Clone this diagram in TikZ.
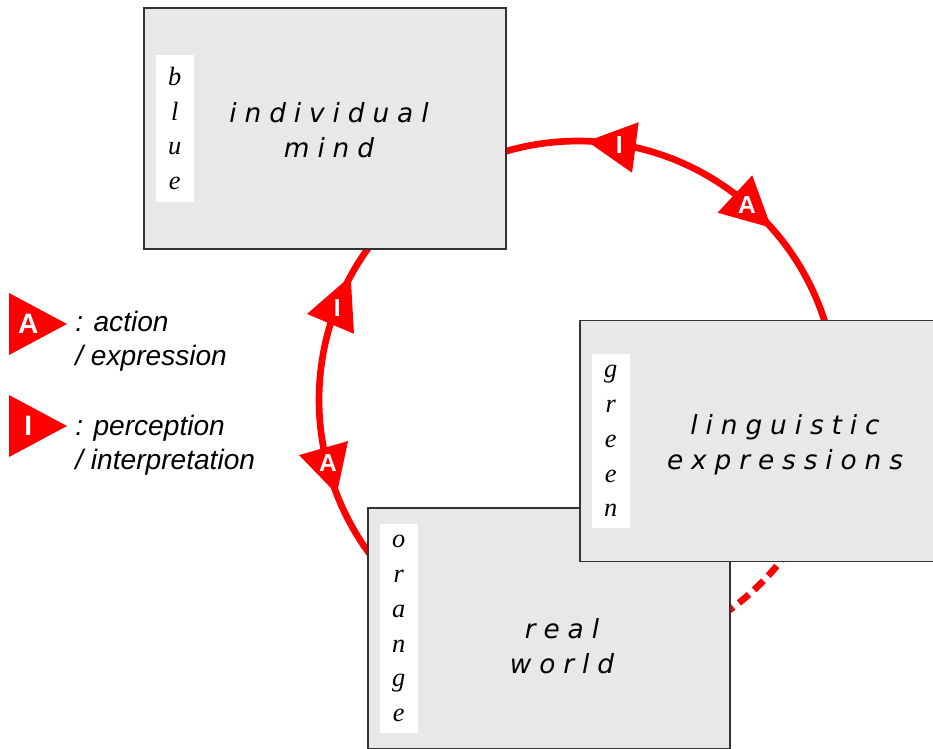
\documentclass[tikz,border=0pt]{standalone}
\usepackage{fontspec}
\usepackage{tikz}
\usetikzlibrary{positioning, calc}
\newfontfamily\boxfont[LetterSpace=30]{DejaVu Sans}
\newfontfamily\keyfont{Liberation Sans}
\newfontfamily\sidefont{Liberation Serif}

\tikzset{
  world/.style={draw=black!80, line width=0.8pt, fill=black!9, minimum width=7.24cm, minimum height=4.82cm, inner sep=0pt},
  sidebar/.style={fill=white, minimum width=0.76cm, inner xsep=0pt, inner ysep=6.5pt, align=center, font=\sidefont\itshape\fontsize{15}{19.85}\selectfont},
  worldtext/.style={align=center, font=\boxfont\itshape\fontsize{15}{19.85}\selectfont},
  ring/.style={red, line width=3.8pt},
  marktext/.style={text=white, inner sep=0pt, font=\keyfont\bfseries\fontsize{14}{14}\selectfont},
  keymark/.style={text=white, inner sep=0pt, font=\keyfont\bfseries\fontsize{16}{16}\selectfont},
  keytext/.style={align=left, anchor=west, inner sep=0pt, font=\keyfont\itshape\fontsize{16}{19.3}\selectfont}
}
\def\ringr{5.18cm}
% red triangle with a letter: [style]{name}{base centre}{tip}{half base}{letter}
\newcommand{\flowmark}[6][marktext]{%
  \coordinate (#2b) at (#3);
  \coordinate (#2t) at (#4);
  \fill[red] (#2t) -- ($(#2b)!#5!90:(#2t)$) -- ($(#2b)!#5!-90:(#2t)$) -- cycle;
  \node[#1] (#2) at ($(#2b)!0.333!(#2t)$) {#6};
}

\begin{document}
\begin{tikzpicture}[x=0.02cm, y=0.02cm]
        \useasboundingbox (0,0) rectangle (933,748);
        \coordinate (ring) at (578,348);
        %---------------------------
        \draw[ring] (ring) ++(-37:\ringr) arc[start angle=-37, end angle=304, radius=\ringr];
        \draw[ring, dash pattern=on 0.26cm off 0.14cm] (ring) ++(-56:\ringr) arc[start angle=-56, end angle=-37, radius=\ringr];
        %---------------------------
        \node[world] (orange) at (549,119.5) {};
        \node[world] (green) at (761,307) {};
        \node[world] (blue) at (325,619.5) {};
        \node[sidebar, right=0.24cm of blue.west] (blueside) {b\\l\\u\\e};
        \node[sidebar, right=0.24cm of green.west] (greenside) {g\\r\\e\\e\\n};
        \node[sidebar, right=0.24cm of orange.west] (orangeside) {o\\r\\a\\n\\g\\e};
        \node[worldtext] (mind) at (329,618) {individual\\mind};
        \node[worldtext] (lang) at (785,303) {linguistic\\expressions};
        \node[worldtext] (real) at (562,102) {real\\world};
        %---------------------------
        \flowmark{topi}{$(ring)+(77.2:\ringr)$}{$(ring)+(88:\ringr)$}{0.51cm}{I}
        \flowmark{topa}{$(ring)+(52.7:\ringr)$}{$(ring)+(41.7:\ringr)$}{0.51cm}{A}
        \flowmark{lefti}{$(ring)+(162.9:\ringr)$}{$(ring)+(151.4:\ringr)$}{0.51cm}{I}
        \flowmark{lefta}{$(ring)+(190.7:\ringr)$}{$(ring)+(201.3:\ringr)$}{0.51cm}{A}
        %---------------------------
        \flowmark[keymark]{keya}{9,424}{67,424}{0.62cm}{A}
        \flowmark[keymark]{keyi}{9,322}{67,322}{0.62cm}{I}
        \node[keytext] (keyatext) at (75,407) {: action\\/ expression};
        \node[keytext] (keyitext) at (75,303) {: perception\\/ interpretation};
\end{tikzpicture}
\end{document}
